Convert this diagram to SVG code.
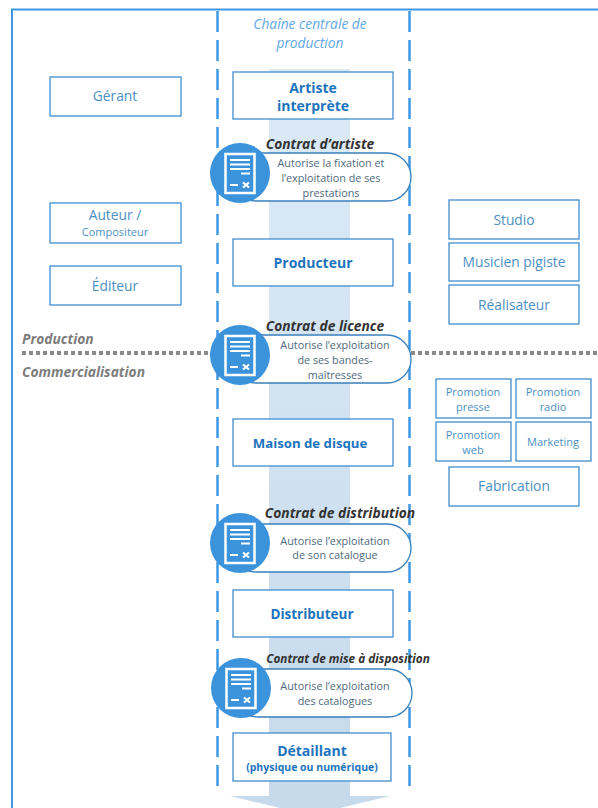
<svg xmlns="http://www.w3.org/2000/svg" width="598" height="808" viewBox="0 0 598 808">
<defs>
<linearGradient id="band" x1="0" y1="0" x2="0" y2="1"><stop offset="0" stop-color="#dceaf7"/><stop offset="1" stop-color="#c6daec"/></linearGradient>
<g id="doc">
<circle cx="0" cy="0" r="30" fill="#3b93dc"/>
<rect x="-14.500" y="-19" width="29" height="39" fill="#3b93dc" stroke="#fff" stroke-width="2.500"/>
<path d="M-10-13H10M-10-8.500H10M-10-4H10M1 .5H10M-10 12H-2" stroke="#fff" stroke-width="1.800" fill="none"/>
<path d="M3 9.500L9 14.500M9 9.500L3 14.500" stroke="#fff" stroke-width="2.200" fill="none"/>
</g>
</defs>
<style>
text{font-family:"Open Sans","Noto Sans","Liberation Sans",sans-serif;text-anchor:middle}
.box{fill:#fff;stroke:#3f8ecf;stroke-width:1.300}
.main{font-weight:700;font-size:14px;fill:#1d74bd}
.side{font-size:13.800px;fill:#4d90c4}
.small{font-size:11px;fill:#4d90c4}
.pill{fill:#fff;stroke:#3a80bd;stroke-width:1.300}
.note{font-size:10.800px;fill:#4f6a80}
.ct{font-weight:700;font-style:italic;font-size:13.800px;fill:#333}
.lab{font-weight:700;font-style:italic;font-size:13.800px;fill:#7d7d7d;text-anchor:start}
</style>
<g id="connectors">
<path d="M12 808V9.500H598" fill="none" stroke="#3f97e3" stroke-width="2"/>
<rect x="269" y="69" width="81" height="730" fill="url(#band)"/>
<path d="M230 796H390L340 808H280Z" fill="#c6daec"/>
<path d="M217.500 11V790M409.500 11V790" fill="none" stroke="#3f97e3" stroke-width="2.500" stroke-dasharray="21 8"/>
<path d="M22 353H214M411 353H598" fill="none" stroke="#8a8a8a" stroke-width="4" stroke-dasharray="4 3"/>
</g>
<text x="310" y="29" style="font-style:italic;font-size:13.800px;fill:#62a8e6">Chaîne centrale de</text>
<text x="310" y="48" style="font-style:italic;font-size:13.800px;fill:#62a8e6">production</text>
<text class="lab" x="22" y="344">Production</text>
<text class="lab" x="22" y="377">Commercialisation</text>
<g id="gerant"><rect class="box" x="50" y="77" width="131" height="39"/><text class="side" x="115" y="101">Gérant</text></g>
<g id="auteur"><rect class="box" x="50" y="203" width="131" height="40"/><text class="side" x="115" y="220">Auteur /</text><text class="small" x="115" y="236">Compositeur</text></g>
<g id="editeur"><rect class="box" x="50" y="266" width="131" height="39"/><text class="side" x="115" y="291">Éditeur</text></g>
<g id="artiste"><rect class="box" x="233" y="72" width="160" height="47"/><text class="main" x="313" y="93">Artiste</text><text class="main" x="313" y="111">interprète</text></g>
<g id="producteur"><rect class="box" x="233" y="239" width="160" height="47"/><text class="main" x="313" y="268">Producteur</text></g>
<g id="maison"><rect class="box" x="233" y="419" width="160" height="47"/><text class="main" x="310" y="448" style="font-size:13.200px">Maison de disque</text></g>
<g id="distributeur"><rect class="box" x="233" y="590" width="160" height="47"/><text class="main" x="312" y="619" style="font-size:13.500px">Distributeur</text></g>
<g id="detaillant"><rect class="box" x="233" y="733" width="158" height="48"/><text class="main" x="312" y="756">Détaillant</text><text x="312" y="771" style="font-weight:700;font-size:10.500px;fill:#1d74bd">(physique ou numérique)</text></g>
<g id="studio"><rect class="box" x="449" y="200" width="130" height="39"/><text class="side" x="514" y="225">Studio</text></g>
<g id="musicien"><rect class="box" x="449" y="243" width="130" height="38"/><text class="side" x="514" y="267">Musicien pigiste</text></g>
<g id="realisateur"><rect class="box" x="449" y="285" width="130" height="39"/><text class="side" x="514" y="310">Réalisateur</text></g>
<g id="presse"><rect class="box" x="436" y="379" width="75" height="39"/><text class="small" x="473" y="396">Promotion</text><text class="small" x="473" y="411">presse</text></g>
<g id="radio"><rect class="box" x="516" y="379" width="75" height="39"/><text class="small" x="553" y="396">Promotion</text><text class="small" x="553" y="411">radio</text></g>
<g id="web"><rect class="box" x="436" y="422" width="75" height="39"/><text class="small" x="473" y="439">Promotion</text><text class="small" x="473" y="454">web</text></g>
<g id="marketing"><rect class="box" x="516" y="422" width="75" height="39"/><text class="small" x="553" y="446">Marketing</text></g>
<g id="fabrication"><rect class="box" x="449" y="467" width="130" height="39"/><text class="side" x="514" y="491">Fabrication</text></g>
<g id="contrat-artiste"><rect class="pill" x="232" y="153" width="179" height="48" rx="24"/><use href="#doc" x="240" y="173"/><text class="ct" x="320" y="149">Contrat d’artiste</text><text class="note" x="331" y="167">Autorise la fixation et</text><text class="note" x="331" y="182">l’exploitation de ses</text><text class="note" x="331" y="197">prestations</text></g>
<g id="contrat-licence"><rect class="pill" x="232" y="335" width="179" height="48" rx="24"/><use href="#doc" x="240" y="355"/><text class="ct" x="325" y="331">Contrat de licence</text><text class="note" x="335" y="349">Autorise l’exploitation</text><text class="note" x="335" y="364">de ses bandes-</text><text class="note" x="335" y="379">maîtresses</text></g>
<g id="contrat-distribution"><rect class="pill" x="232" y="524" width="179" height="48" rx="24"/><use href="#doc" x="240" y="543"/><text class="ct" x="340" y="518">Contrat de distribution</text><text class="note" x="335" y="545">Autorise l’exploitation</text><text class="note" x="335" y="559">de son catalogue</text></g>
<g id="contrat-mise"><rect class="pill" x="234" y="669" width="178" height="48" rx="24"/><use href="#doc" x="241" y="688"/><text class="ct" x="348" y="663" style="font-size:11.800px">Contrat de mise à disposition</text><text class="note" x="335" y="690">Autorise l’exploitation</text><text class="note" x="335" y="705">des catalogues</text></g>
</svg>
